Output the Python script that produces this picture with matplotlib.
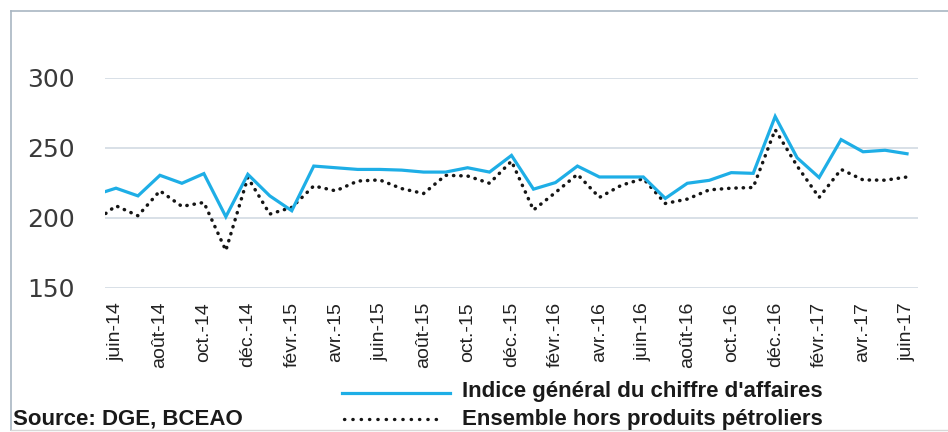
import numpy as np
import matplotlib.pyplot as plt
from matplotlib.lines import Line2D

# Monthly values (first value = mai-14, only partly visible at the left edge)
months = ['mai-14', 'juin-14', 'juil.-14', 'août-14', 'sept.-14', 'oct.-14', 'nov.-14', 'déc.-14',
          'janv.-15', 'févr.-15', 'mars-15', 'avr.-15', 'mai-15', 'juin-15', 'juil.-15', 'août-15',
          'sept.-15', 'oct.-15', 'nov.-15', 'déc.-15', 'janv.-16', 'févr.-16', 'mars-16', 'avr.-16',
          'mai-16', 'juin-16', 'juil.-16', 'août-16', 'sept.-16', 'oct.-16', 'nov.-16', 'déc.-16',
          'janv.-17', 'févr.-17', 'mars-17', 'avr.-17', 'mai-17', 'juin-17']
indice_general = [216.3, 221.3, 215.8, 230.5, 224.8, 231.7, 200.9, 231.2, 215.8, 205.2,
                  237.1, 235.9, 234.7, 234.7, 234.2, 232.8, 232.8, 235.9, 232.8, 244.7,
                  220.6, 225.3, 237.1, 229.3, 229.3, 229.3, 214.0, 224.8, 226.9, 232.4,
                  231.9, 272.5, 243.0, 228.9, 256.0, 247.3, 248.4, 245.9]
hors_petrole = [197.0, 208.7, 201.6, 219.4, 208.3, 211.1, 176.8, 228.9, 202.8, 207.6,
                222.9, 219.4, 226.4, 227.2, 221.0, 217.5, 230.5, 230.0, 224.8, 240.6,
                205.7, 218.2, 231.2, 214.7, 223.4, 228.1, 210.4, 213.5, 220.1, 221.3,
                221.8, 263.1, 237.1, 214.7, 234.7, 227.2, 227.0, 229.3]
tick_labels = ['juin-14', 'août-14', 'oct.-14', 'déc.-14', 'févr.-15', 'avr.-15', 'juin-15',
               'août-15', 'oct.-15', 'déc.-15', 'févr.-16', 'avr.-16', 'juin-16', 'août-16',
               'oct.-16', 'déc.-16', 'févr.-17', 'avr.-17', 'juin-17']

BLUE = '#1eaee6'
W, H = 948, 432

x = np.arange(len(months)) - 1  # juin-14 at 0

fig = plt.figure(figsize=(W / 100, H / 100), dpi=100)
ax = fig.add_axes([105 / W, 1 - 288 / H, 813 / W, 210 / H])

ax.plot(x, indice_general, color=BLUE, lw=2.3, solid_joinstyle='miter', zorder=3)
ax.plot(x, hors_petrole, color='#151515', lw=2.5, linestyle=(0, (0.1, 2.0)),
        dash_capstyle='round', zorder=2)

ax.set_xlim(-0.5, 36.5)
ax.set_ylim(150, 300)
ax.set_yticks([150, 200, 250, 300])
ax.set_xticks(np.arange(0, 37, 2))
ax.set_xticklabels(tick_labels, rotation=90, va='top', ha='center',
                   fontsize=14, color='#222222', family=['Liberation Sans Narrow', 'Liberation Sans'])
ax.tick_params(axis='x', length=0, pad=10)
ax.tick_params(axis='y', length=0, pad=22, labelsize=18, labelcolor='#3a3a3a')
for s in ax.spines.values():
    s.set_visible(False)
ax.grid(axis='y', color='#d6dde5', lw=1.3)
ax.set_axisbelow(True)

# frame around the chart
fig.add_artist(Line2D([11 / W, 11 / W], [1 - 11 / H, 1 - 430 / H], color='#a9b6c2', lw=1.2))
fig.add_artist(Line2D([11 / W, 1], [1 - 11 / H, 1 - 11 / H], color='#a9b6c2', lw=1.2))
fig.add_artist(Line2D([11 / W, 1], [1 - 430 / H, 1 - 430 / H], color='#d8d8d8', lw=1.0))

# legend, drawn by hand like the original
leg_font = dict(fontsize=16, fontweight='bold', color='#1a1a1a', va='center',
                family=['Liberation Sans Narrow', 'Liberation Sans'])
fig.add_artist(Line2D([342 / W, 450 / W], [1 - 393 / H, 1 - 393 / H], color=BLUE, lw=2.3))
fig.add_artist(Line2D([344 / W, 444 / W], [1 - 419 / H, 1 - 419 / H], color='#151515', lw=2.4,
                      linestyle=(0, (0.1, 2.4)), dash_capstyle='round'))
fig.text(462 / W, 1 - 392 / H, "Indice général du chiffre d'affaires", **leg_font)
fig.text(462 / W, 1 - 419 / H, 'Ensemble hors produits pétroliers', **leg_font)
fig.text(13 / W, 1 - 419 / H, 'Source: DGE, BCEAO', **leg_font)

fig.savefig('out.png', dpi=100)
